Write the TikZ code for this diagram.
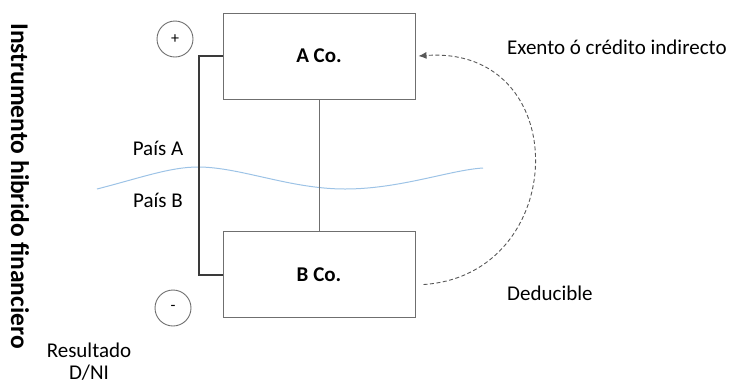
\documentclass[tikz,border=0pt]{standalone}
\usepackage{fontspec}
\setmainfont{Carlito}
\usetikzlibrary{arrows.meta}
\definecolor{boxgray}{HTML}{6F6F6F}
\definecolor{darkline}{HTML}{3A3A3A}
\definecolor{wave}{HTML}{9DC3E6}
\tikzset{
  cobox/.style={draw=boxgray, line width=1pt, minimum width=192pt, minimum height=86pt, inner sep=0pt, font=\fontsize{21}{24}\selectfont\bfseries},
  signcircle/.style={circle, draw=boxgray, line width=0.9pt, minimum size=36pt, inner sep=0pt, font=\fontsize{16}{16}\selectfont},
  lbl/.style={inner sep=0pt, font=\fontsize{21}{24}\selectfont},
  bracket/.style={draw=darkline, line width=2pt},
  link/.style={draw=boxgray, line width=1pt},
  flow/.style={draw=darkline!85, line width=0.9pt, dash pattern=on 4pt off 2.5pt, -{Latex[length=8pt,width=7pt]}},
}
\begin{document}
\begin{tikzpicture}[x=1pt,y=-1pt]
\useasboundingbox (0,0) rectangle (735,384);
% boxes
\node[cobox] (A) at (319,56) {A Co.};
\node[cobox] (B) at (319,274.5) {B Co.};
% wave
\draw[wave, line width=1pt] (97,189) .. controls (140,178) and (170,167) .. (198,167)
  .. controls (240,167) and (290,189) .. (345,189)
  .. controls (400,189) and (450,170) .. (483,168);
% connectors
\draw[link] (A.south) -- (B.north);
\draw[bracket] (A.west) -- ++(-24,0) coordinate (bt) |- (B.west);
% signs
\node[signcircle] (plus) at (175,39) {+};
\node[signcircle] (minus) at (173,308) {-};
% dashed flow
\coordinate (fs) at ([xshift=8pt,yshift=-10pt]B.east);
\coordinate (fe) at ([xshift=3pt]A.east);
\draw[flow] (fs) .. controls (570,275) and (575,45) .. (fe);
% labels
\node[lbl, anchor=base] (pa) at (158,155) {País A};
\node[lbl, anchor=base] (pb) at (158,207) {País B};
\node[lbl, anchor=base west] (ex) at (507,54) {Exento ó crédito indirecto};
\node[lbl, anchor=base west] (de) at (507,300) {Deducible};
\node[lbl, anchor=base] (r1) at (89,357) {Resultado};
\node[lbl, anchor=base] (r2) at (89,379) {D/NI};
\node[inner sep=0pt, rotate=-90, font=\fontsize{25.5}{28}\selectfont\bfseries] (title) at (20,186) {Instrumento hibrido financiero};
\end{tikzpicture}
\end{document}
